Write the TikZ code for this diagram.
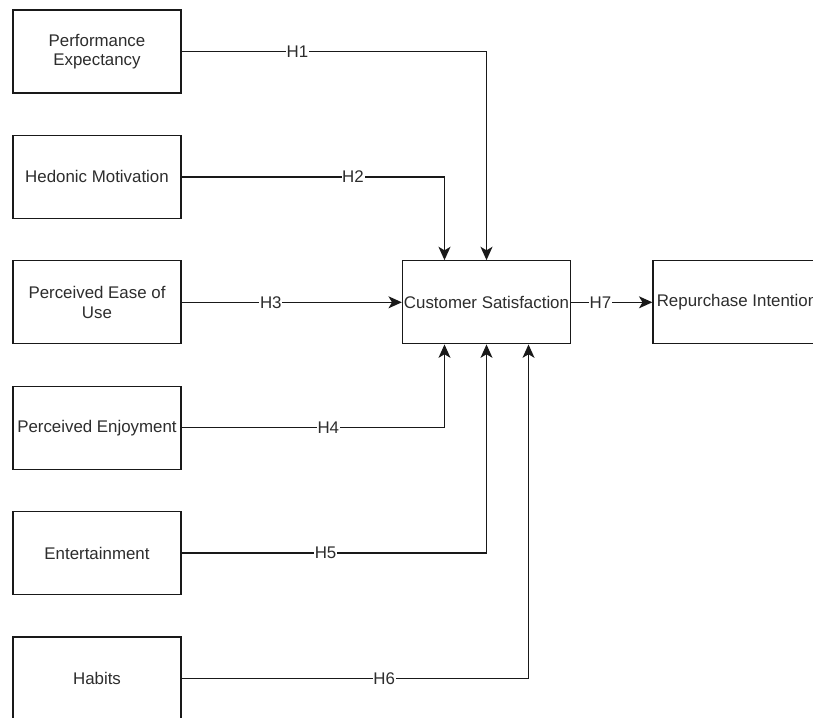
\documentclass[tikz,border=0pt]{standalone}
\usepackage{fontspec}
\setmainfont{Liberation Sans}
\usepackage{xcolor}
\definecolor{csat_line}{RGB}{25, 25, 25}
\definecolor{csat_text}{RGB}{45, 45, 45}
\usepackage{tikz}
\usetikzlibrary{arrows.meta, positioning, calc}

\begin{document}
\begin{tikzpicture}[
        x=0.025cm, y=-0.025cm,
        box/.style={rectangle, draw=csat_line, line width=0.9pt, fill=white,
                    minimum width=4.2cm, minimum height=2.075cm, inner sep=0pt,
                    align=center, text=csat_text,
                    font=\fontsize{12}{13.8}\selectfont},
        lbl/.style={fill=white, inner xsep=0.5pt, inner ysep=1pt, text=csat_text,
                    font=\fontsize{12}{13.8}\selectfont},
        arr/.style={-{Stealth[length=9.5pt, width=8.5pt, inset=2.5pt]},
                    csat_line, line width=0.9pt},
      ]
        \useasboundingbox (0,0) rectangle (813,717);
        \clip (0,0) rectangle (813,717);

        \foreach \n/\y/\t in {pe/51.5/{Performance\\Expectancy},
                              hm/176.9/{Hedonic Motivation},
                              peu/302.3/{Perceived Ease of\\Use},
                              pj/427.7/{Perceived Enjoyment},
                              ent/553.1/{Entertainment},
                              hab/678.5/{Habits}}
          \node[box] (\n) at (97, \y) {\t};

        \node[box] (cs) at (486.5, 302.3) {Customer Satisfaction};
        \node[box] (ri) at (737, 302.3) {Repurchase Intention};

        \draw[arr] (pe) -| node[lbl, pos=0.19] {H1} (cs.north);
        \draw[arr] (hm) -| node[lbl, pos=0.326] {H2} ([xshift=-1.05cm]cs.north);
        \draw[arr] (peu) -- node[lbl, pos=0.405] {H3} (cs);
        \draw[arr] (pj) -| node[lbl, pos=0.279] {H4} ([xshift=-1.05cm]cs.south);
        \draw[arr] (ent) -| node[lbl, pos=0.236] {H5} (cs.south);
        \draw[arr] (hab) -| node[lbl, pos=0.292] {H6} ([xshift=1.05cm]cs.south);
        \draw[arr] (cs) -- node[lbl, pos=0.36] {H7} (ri);
      \end{tikzpicture}
\end{document}
